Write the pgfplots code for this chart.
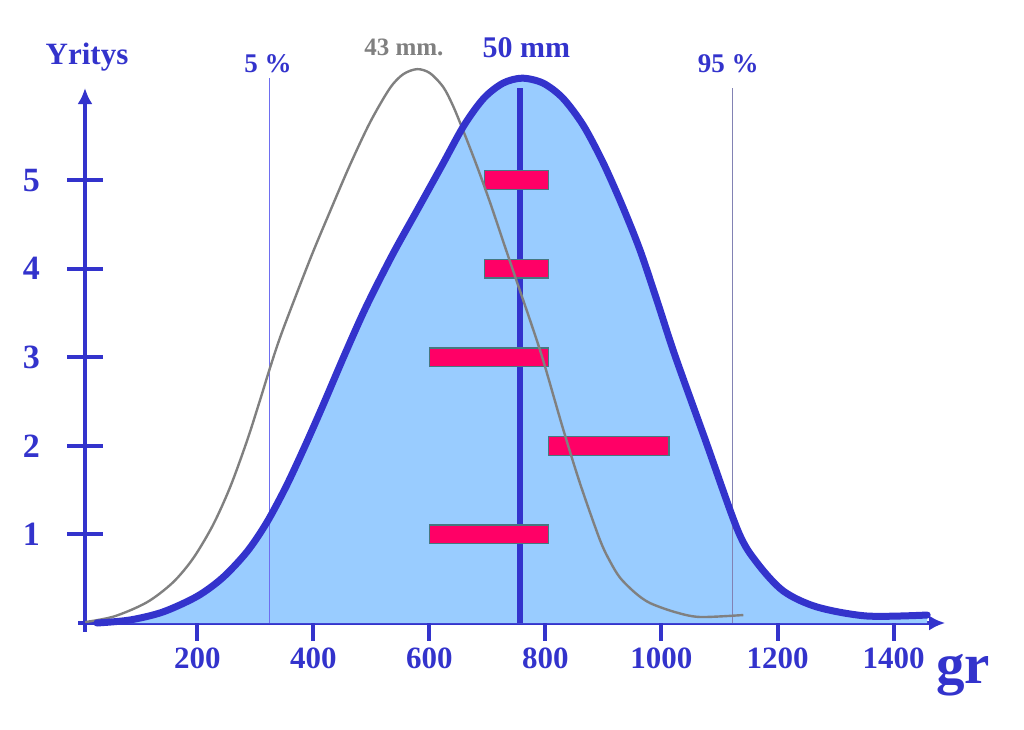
\documentclass[border=0pt]{standalone}
\usepackage{pgfplots}
\pgfplotsset{compat=1.18}
\usepackage{fontspec}
\setmainfont{Liberation Serif}
\usetikzlibrary{arrows.meta}
\definecolor{mblue}{RGB}{51,51,204}
\definecolor{fblue}{RGB}{153,204,255}
\definecolor{bred}{RGB}{255,0,102}
\definecolor{bedge}{RGB}{70,120,128}
\definecolor{cgray}{RGB}{128,128,128}
\definecolor{lfive}{RGB}{110,110,240}
\definecolor{lninefive}{RGB}{130,130,180}
\newcommand\fs[1]{\fontsize{#1}{#1}\selectfont\bfseries}
\pgfplotstableread{
g y
27 0
84 0.034
141 0.125
200 0.302
244 0.513
286 0.807
320 1.137
353 1.540
384 1.974
415 2.433
455 3.045
491 3.570
536 4.153
581 4.684
622 5.169
660 5.621
694 5.926
727 6.095
760 6.151
796 6.095
830 5.926
865 5.621
899 5.203
932 4.718
963 4.210
992 3.646
1023 3.025
1075 2.077
1132 1.038
1165 0.677
1210 0.361
1268 0.181
1354 0.079
1458 0.090
}\bluecurve
\pgfplotstableread{
g y
-4 0
55 0.071
113 0.233
158 0.458
193 0.731
227 1.105
257 1.540
286 2.062
308 2.513
325 2.873
346 3.283
394 4.100
429 4.650
463 5.169
498 5.655
532 6.038
555 6.196
579 6.253
601 6.208
624 6.050
641 5.835
658 5.564
682 5.158
705 4.740
727 4.312
751 3.849
774 3.409
796 2.968
830 2.201
860 1.569
894 0.937
912 0.688
929 0.508
955 0.339
980 0.226
1023 0.124
1066 0.068
1141 0.090
}\graycurve
\begin{document}
\begin{tikzpicture}
\begin{axis}[
  scale only axis, width=860.2pt, height=535pt,
  xmin=6.5, xmax=1489, ymin=0, ymax=6.04,
  clip=false,
  axis x line=bottom, axis y line=left,
  x axis line style={line width=4.5pt, mblue, -{Latex[length=16pt,width=15pt]}},
  y axis line style={line width=4.5pt, mblue, -{Latex[length=16pt,width=15pt]}},
  xtick={200,400,600,800,1000,1200,1400},
  xticklabels={200,400,600,800,1000,1200,1400},
  ytick={1,2,3,4,5}, yticklabels={1,2,3,4,5},
  tick align=center, major tick length=36pt,
  ytick style={mblue, line width=4pt},
  xtick style={draw=none},
  xticklabel style={font=\fs{31}, text=mblue, inner sep=0pt, anchor=north, yshift=-7pt},
  yticklabel style={font=\fs{34}, text=mblue, inner sep=0pt, anchor=east, xshift=-27pt},
  /pgf/number format/assume math mode=true,
]
% fill under the 50 mm curve
\addplot[fill=fblue, draw=none, smooth] table[x=g,y=y] {\bluecurve} \closedcycle;
% 5 % and 95 % lines
\addplot[lfive, line width=1.3pt] coordinates {(325,0) (325,6.15)};
\addplot[lninefive, line width=1.3pt] coordinates {(1123,0) (1123,6.04)};
% mean line
\addplot[mblue, line width=6.5pt] coordinates {(756,0) (756,6.04)};
% x ticks
\addplot[ycomb, mblue, line width=4pt] coordinates {(200,-0.2) (400,-0.2) (600,-0.2) (800,-0.2) (1000,-0.2) (1200,-0.2) (1400,-0.2)};
% bars
\addplot[fill=bred, draw=bedge, line width=1.3pt] coordinates {(695,4.895) (805,4.895) (805,5.105) (695,5.105) (695,4.895)};
\addplot[fill=bred, draw=bedge, line width=1.3pt] coordinates {(695,3.895) (805,3.895) (805,4.105) (695,4.105) (695,3.895)};
\addplot[fill=bred, draw=bedge, line width=1.3pt] coordinates {(600,2.895) (805,2.895) (805,3.105) (600,3.105) (600,2.895)};
\addplot[fill=bred, draw=bedge, line width=1.3pt] coordinates {(805,1.895) (1013,1.895) (1013,2.105) (805,2.105) (805,1.895)};
\addplot[fill=bred, draw=bedge, line width=1.3pt] coordinates {(600,0.895) (805,0.895) (805,1.105) (600,1.105) (600,0.895)};
% 43 mm curve
\addplot[cgray, line width=2.4pt, smooth] table[x=g,y=y] {\graycurve};
% 50 mm curve
\addplot[mblue, line width=7pt, smooth, line cap=round] table[x=g,y=y] {\bluecurve};
% small axis stubs
\draw[mblue, line width=4.5pt] (axis cs:-5,0) -- (axis cs:6.5,0);
\draw[mblue, line width=4.5pt] (axis cs:6.5,0) -- (axis cs:6.5,-0.1);
% labels
\node[anchor=base, inner sep=0pt, text=mblue, font=\fs{31}] at (axis cs:10,6.31) {Yritys};
\node[anchor=base, inner sep=0pt, text=mblue, font=\fs{27}] at (axis cs:322,6.21) {5~\%};
\node[anchor=base, inner sep=0pt, text=cgray, font=\fs{25}] at (axis cs:556,6.41) {43 mm.};
\node[anchor=base, inner sep=0pt, text=mblue, font=\fs{30}] at (axis cs:767,6.38) {50 mm};
\node[anchor=base, inner sep=0pt, text=mblue, font=\fs{27}] at (axis cs:1115,6.21) {95~\%};
\node[anchor=base, inner sep=0pt, text=mblue, font=\fs{57}] at (axis cs:1520,-0.68) {gr};
\end{axis}
\pgfresetboundingbox
\useasboundingbox (-85pt,-106pt) rectangle (939pt,623pt);
\end{tikzpicture}
\end{document}
